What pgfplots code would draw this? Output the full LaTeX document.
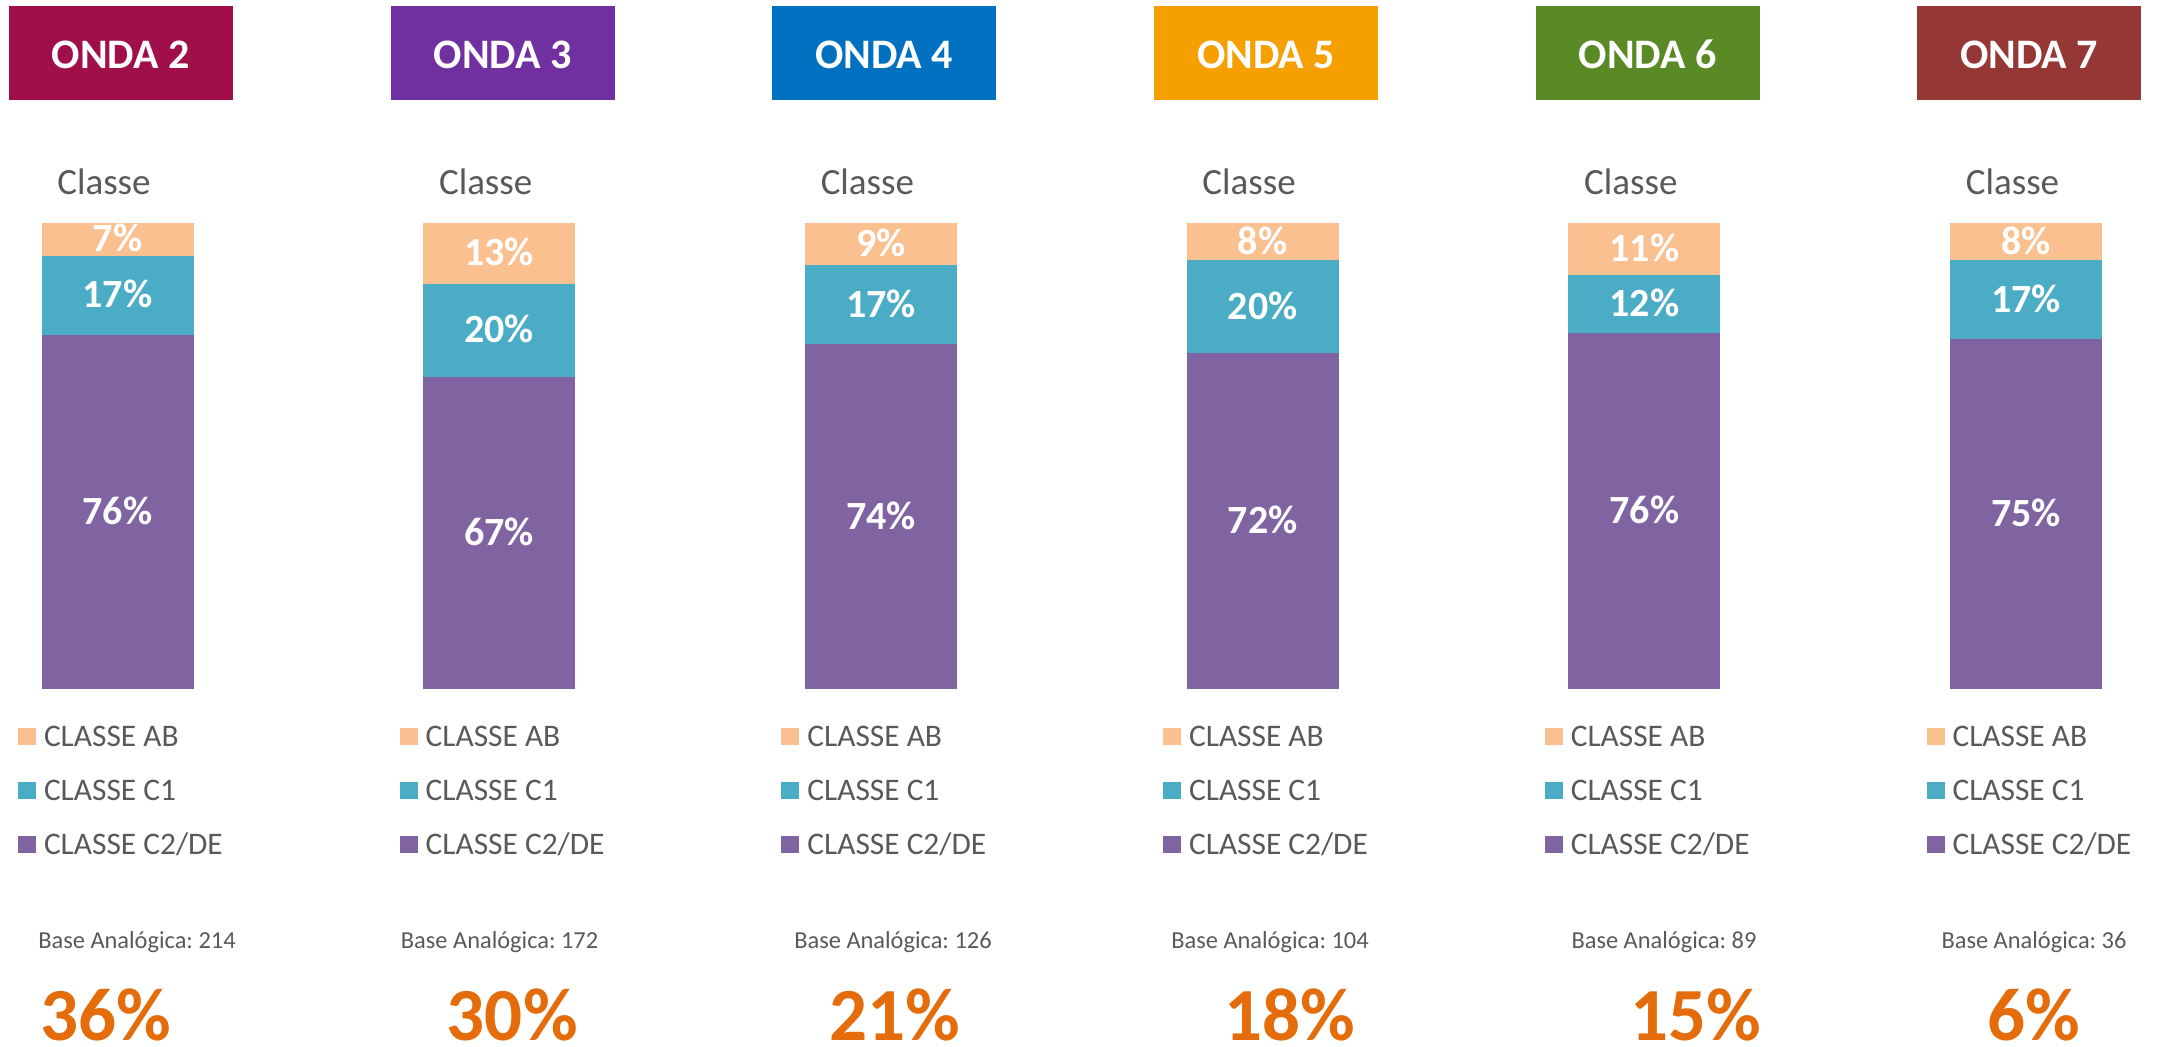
\documentclass[border=0pt]{standalone}
\usepackage{pgfplots}
\pgfplotsset{compat=1.18}
\usepackage{fontspec}
\setmainfont{Carlito}
\frenchspacing
\definecolor{cAB}{HTML}{FAC090}
\definecolor{cC1}{HTML}{4BACC6}
\definecolor{cC2}{HTML}{8064A2}
\definecolor{tgray}{HTML}{595959}
\definecolor{borng}{HTML}{E46C0A}
\definecolor{h2}{HTML}{A10F4B}
\definecolor{h3}{HTML}{7030A0}
\definecolor{h4}{HTML}{0070C0}
\definecolor{h5}{HTML}{F59F00}
\definecolor{h6}{HTML}{5A8A26}
\definecolor{h7}{HTML}{953735}

\pgfplotsset{
  ondabase/.style={
    scale only axis, width=76pt, height=232.85pt,
    xmin=-0.5, xmax=0.5, ymin=0, ymax=100, enlargelimits=false,
    hide axis, clip=false, anchor=south,
  }
}

% #1 = bar centre (px), #2 = C2/DE, #3 = C1, #4 = AB
\newcommand\ondabars[4]{%
  \begin{axis}[ondabase, at={({#1*0.5pt},{-688.7*0.5pt})},
    ybar stacked, bar width=76pt,
    legend style={draw=none, fill=none, at={(-0.1546,-0.0801)}, anchor=north west,
      inner sep=0pt, outer sep=0pt, row sep=17pt, column sep=4pt,
      font=\fontsize{15.7}{18}\selectfont, text=tgray,
      nodes={inner sep=0pt, text height=10pt, text depth=0pt}},
    legend cell align=left, reverse legend,
    legend image code/.code={\fill[##1, draw=none] (0pt,-4.25pt) rectangle (9pt,4.25pt);},
  ]
  \addplot[fill=cC2, draw=none] coordinates {(0,#2)};
  \addplot[fill=cC1, draw=none] coordinates {(0,#3)};
  \addplot[fill=cAB, draw=none] coordinates {(0,#4)};
  \legend{CLASSE C2/DE, CLASSE C1, CLASSE AB}
  \end{axis}
  \pgfmathsetmacro\mA{#2/2}
  \pgfmathsetmacro\mB{#2+#3/2}
  \pgfmathsetmacro\mC{#2+#3+#4/2}
  \begin{axis}[ondabase, at={({#1*0.5pt},{-688.7*0.5pt})}]
  \addplot[only marks, mark=*, mark size=0pt, mark options={draw=none, fill=none},
    scatter/use mapped color={draw=none, fill=none},
    point meta=explicit,
    nodes near coords={\pgfmathprintnumber[fixed,precision=0,assume math mode=true]{\pgfplotspointmeta}\%},
    nodes near coords align=center,
    every node near coord/.append style={font=\fontsize{20}{24}\selectfont\bfseries, text=white, inner sep=0pt, text height=12.64pt, text depth=0pt}]
    coordinates {(0,\mA)[#2] (0,\mB)[#3] (0,\mC)[#4]};
  \end{axis}
}

% #1 n, #2 colour, #3 bar centre, #4 base centre, #5 base n, #6 big centre, #7 big value
\newcommand\ondadeco[7]{%
  \begin{scope}[x=0.5pt,y=-0.5pt]
  \fill[#2] ({#3+3.3-112},6) rectangle ({#3+3.3+112},100);
  \node[anchor=base, inner sep=0pt, text=white, font=\fontsize{21}{25}\selectfont\bfseries] at ({#3+3.3},68.3) {ONDA #1};
  \node[anchor=base, inner sep=0pt, text=tgray, font=\fontsize{18.5}{22}\selectfont] at ({#3-13.5},195) {Classe};
  \node[anchor=base, inner sep=0pt, text=tgray, font=\fontsize{12.2}{14}\selectfont] at (#4,948) {Base Analógica: #5};
  \node[anchor=base, inner sep=0pt, text=borng, font=\fontsize{37.5}{44}\selectfont\bfseries] at (#6,1040) {#7\%};
  \end{scope}
}

\begin{document}
\begin{tikzpicture}
\path[use as bounding box, x=0.5pt, y=-0.5pt] (0,0) rectangle (2159,1047);

\ondabars{117.5}{76}{17}{7}
\ondabars{499.2}{67}{20}{13}
\ondabars{880.9}{74}{17}{9}
\ondabars{1262.6}{72}{20}{8}
\ondabars{1644.3}{76.4}{12.4}{11.2}
\ondabars{2026.0}{75}{17}{8}

\ondadeco{2}{h2}{117.5}{137}{214}{106}{36}
\ondadeco{3}{h3}{499.2}{499.6}{172}{512.3}{30}
\ondadeco{4}{h4}{880.9}{893}{126}{895}{21}
\ondadeco{5}{h5}{1262.6}{1270}{104}{1289.8}{18}
\ondadeco{6}{h6}{1644.3}{1664}{89}{1696}{15}
\ondadeco{7}{h7}{2026.0}{2034}{36}{2034}{6}
\end{tikzpicture}
\end{document}
